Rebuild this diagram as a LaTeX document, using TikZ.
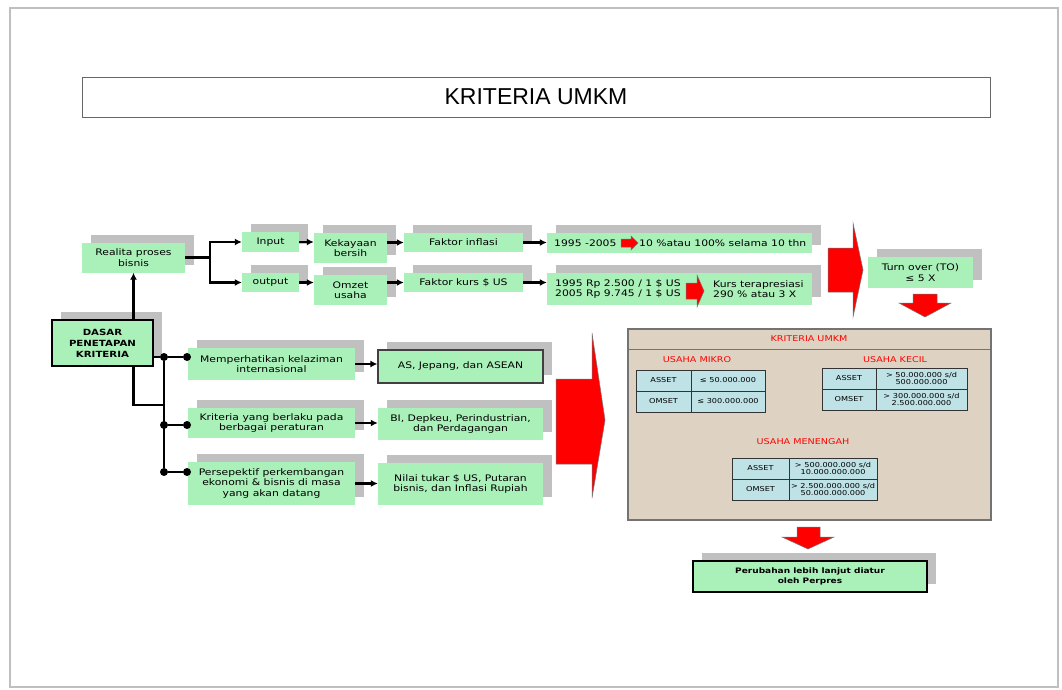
\documentclass[tikz,border=0pt]{standalone}
\usepackage{fontspec}
\setmainfont{DejaVu Sans}[FakeStretch=1.2]
\newfontfamily\titlefont{Liberation Sans}
\usetikzlibrary{shapes,arrows,arrows.meta,positioning,calc,shadows}

\definecolor{boxgreen}{RGB}{170,240,185}
\definecolor{shadowgray}{RGB}{192,192,192}
\definecolor{panelbeige}{RGB}{222,211,194}
\definecolor{cellblue}{RGB}{190,226,230}

\tikzset{
  gbox/.style={fill=boxgreen, align=center, inner sep=1pt, font=\fontsize{9}{10.5}\selectfont,
    drop shadow={shadow xshift=9pt, shadow yshift=8pt, fill=shadowgray, opacity=1}},
  bbox/.style={gbox, draw=black!75, line width=1.2pt},
  kbox/.style={gbox, draw=black, line width=2.2pt},
  conn/.style={line width=2.2pt, -{Latex[length=7pt,width=7pt]}},
  wire/.style={line width=2.2pt},
  dot/.style={circle, fill=black, inner sep=0pt, minimum size=8pt},
  bigarrow/.style={fill=red, draw=black!55, line width=0.5pt},
  txt/.style={inner sep=0pt, align=left, font=\fontsize{9}{10.5}\selectfont},
  cell/.style={draw=black!80, fill=cellblue, line width=1pt, inner sep=0pt, align=center,
    font=\fontsize{6.8}{7.8}\selectfont},
  ulabel/.style={text=red, font=\fontsize{8}{9}\selectfont}
}

\begin{document}
\begin{tikzpicture}[x=1pt, y=-1pt]
  \useasboundingbox (0,0) rectangle (1062,690);
  \draw[black!25, line width=1.5pt] (10,8) rectangle (1058,687);

  % title
  \node[draw=black!60, line width=0.8pt, minimum width=908pt, minimum height=40pt,
    font=\titlefont\fontsize{23}{26}\selectfont] (title) at (536,97) {KRITERIA UMKM};

  % upper chain
  \node[gbox, minimum width=103pt, minimum height=30pt] (real) at (133.5,257.5) {Realita proses\\bisnis};
  \node[gbox, minimum width=57pt, minimum height=20pt] (inp) at (270.5,242) {Input};
  \node[gbox, minimum width=57pt, minimum height=19pt] (outp) at (270.5,282.5) {output};
  \node[gbox, minimum width=73pt, minimum height=30pt] (keka) at (350.5,248) {Kekayaan\\bersih};
  \node[gbox, minimum width=73pt, minimum height=30pt] (omzet) at (350.5,290) {Omzet\\usaha};
  \node[gbox, minimum width=119pt, minimum height=19pt] (finf) at (463.5,242.5) {Faktor inflasi};
  \node[gbox, minimum width=119pt, minimum height=19pt] (fkurs) at (463.5,282.5) {Faktor kurs \$ US};
  \node[gbox, minimum width=265pt, minimum height=20pt] (per1) at (679.5,243) {};
  \node[gbox, minimum width=265pt, minimum height=32pt] (per2) at (679.5,289) {};
  \node[txt, anchor=west] (per1a) at (554,243) {1995 -2005};
  \node[txt, anchor=west] (per1b) at (639,243) {10 \%atau 100\% selama 10 thn};
  \node[txt, anchor=west] (per2a) at (555,289) {1995 Rp 2.500 / 1 \$ US\\2005 Rp 9.745 / 1 \$ US};
  \node[txt, anchor=west] (per2b) at (713,289) {Kurs terapresiasi\\290 \% atau 3 X};
  \node[gbox, minimum width=105pt, minimum height=31pt] (to) at (920.5,272.5) {Turn over (TO)\\≤ 5 X};

  % dasar and lower chain
  \node[kbox, minimum width=101pt, minimum height=46pt, font=\fontsize{8.5}{11}\selectfont\bfseries]
    (dasar) at (102.5,343) {DASAR\\PENETAPAN\\KRITERIA};
  \node[gbox, minimum width=167pt, minimum height=32pt] (mem) at (271.5,364) {Memperhatikan kelaziman\\internasional};
  \node[bbox, minimum width=165pt, minimum height=33pt] (as) at (460.5,366.5) {AS, Jepang, dan ASEAN};
  \node[gbox, minimum width=167pt, minimum height=30pt] (krit) at (271.5,423) {Kriteria yang berlaku pada\\berbagai peraturan};
  \node[gbox, minimum width=165pt, minimum height=32pt] (bi) at (460.5,424) {BI, Depkeu, Perindustrian,\\dan Perdagangan};
  \node[gbox, minimum width=167pt, minimum height=43pt] (pers) at (271.5,483.5) {Persepektif perkembangan\\ekonomi \& bisnis di masa\\yang akan datang};
  \node[gbox, minimum width=165pt, minimum height=42pt] (nilai) at (460.5,484) {Nilai tukar \$ US, Putaran\\bisnis, dan Inflasi Rupiah};

  \node[dot] (j1) at (164,357) {};
  \node[dot] (e1) at (187,357) {};
  \node[dot] (j2) at (164,425) {};
  \node[dot] (e2) at (187,425) {};
  \node[dot] (j3) at (164,472) {};
  \node[dot] (e3) at (187,472) {};
  \coordinate (lb) at (164,405);

  % panel
  \node[draw=black!55, fill=panelbeige, line width=1.2pt, minimum width=363pt, minimum height=191pt,
    inner sep=0pt] (panel) at (809.5,424.5) {};
  \draw[black!55, line width=1.2pt] ($(panel.north west)+(0,21)$) -- ($(panel.north east)+(0,21)$);
  \node[ulabel] (ptitle) at (809,339) {KRITERIA UMKM};
  \node[ulabel] (mikro) at (697,360) {USAHA MIKRO};
  \node[ulabel] (kecil) at (895,360) {USAHA KECIL};
  \node[ulabel] (menengah) at (803,442) {USAHA MENENGAH};

  \node[cell, minimum width=55pt, minimum height=21pt] (ma) at (663.5,380.5) {ASSET};
  \node[cell, minimum width=74pt, minimum height=21pt] (mav) at (728,380.5) {≤ 50.000.000};
  \node[cell, minimum width=55pt, minimum height=21pt] (mo) at (663.5,401.5) {OMSET};
  \node[cell, minimum width=74pt, minimum height=21pt] (mov) at (728,401.5) {≤ 300.000.000};

  \node[cell, minimum width=54pt, minimum height=21pt] (ka) at (849,378.5) {ASSET};
  \node[cell, minimum width=91pt, minimum height=21pt] (kav) at (921.5,378.5) {> 50.000.000 s/d\\500.000.000};
  \node[cell, minimum width=54pt, minimum height=21pt] (ko) at (849,399.5) {OMSET};
  \node[cell, minimum width=91pt, minimum height=21pt] (kov) at (921.5,399.5) {> 300.000.000 s/d\\2.500.000.000};

  \node[cell, minimum width=57pt, minimum height=21pt] (na) at (760.5,468.5) {ASSET};
  \node[cell, minimum width=88pt, minimum height=21pt] (nav) at (833,468.5) {> 500.000.000 s/d\\10.000.000.000};
  \node[cell, minimum width=57pt, minimum height=21pt] (no) at (760.5,489.5) {OMSET};
  \node[cell, minimum width=88pt, minimum height=21pt] (nov) at (833,489.5) {> 2.500.000.000 s/d\\50.000.000.000};

  \node[kbox, minimum width=234pt, minimum height=31pt, font=\fontsize{7.5}{10}\selectfont\bfseries]
    (ubah) at (810,576.5) {Perubahan lebih lanjut diatur\\oleh Perpres};

  % connectors
  \draw[conn] (dasar.north -| real.south) -- (real.south);
  \draw[conn] (real.east) -- ++(25,0) |- (inp.west);
  \draw[conn] (real.east) -- ++(25,0) |- (outp.west);
  \draw[conn] (inp.east) -- (inp.east -| keka.west);
  \draw[conn] (finf.west -| keka.east) -- (finf.west);
  \draw[conn] (finf.east) -- (finf.east -| per1.west);
  \draw[conn] (outp.east) -- (outp.east -| omzet.west);
  \draw[conn] (fkurs.west -| omzet.east) -- (fkurs.west);
  \draw[conn] (fkurs.east) -- (fkurs.east -| per2.west);

  \draw[wire] (dasar.east |- j1) -- (j1) -- (e1);
  \draw[wire] (j1) -- (j3);
  \draw[wire] (j2) -- (e2);
  \draw[wire] (j3) -- (e3);
  \draw[wire] (dasar.south -| real.south) |- (lb);
  \draw[conn] (mem.east) -- (mem.east -| as.west);
  \draw[conn] (krit.east) -- (krit.east -| bi.west);
  \draw[conn] (pers.east) -- (pers.east -| nilai.west);

  % red block arrows
  \draw[bigarrow] (621,239) -- (631,239) -- (631,236) -- (638,243) -- (631,250) -- (631,247) -- (621,247) -- cycle;
  \draw[bigarrow] (686,283) -- (697,283) -- (697,275) -- (704,291) -- (697,307) -- (697,299) -- (686,299) -- cycle;
  \draw[bigarrow] (828,248) -- (853,248) -- (853,223) -- (863,270) -- (853,317) -- (853,292) -- (828,292) -- cycle;
  \draw[bigarrow] (913,294) -- (937,294) -- (937,303) -- (951,303) -- (925,317) -- (899,303) -- (913,303) -- cycle;
  \draw[bigarrow] (556,379) -- (592,379) -- (592,333) -- (605,420) -- (592,498) -- (592,464) -- (556,464) -- cycle;
  \draw[bigarrow] (797,527) -- (820,527) -- (820,537) -- (834,537) -- (808,549) -- (782,537) -- (797,537) -- cycle;
\end{tikzpicture}
\end{document}
